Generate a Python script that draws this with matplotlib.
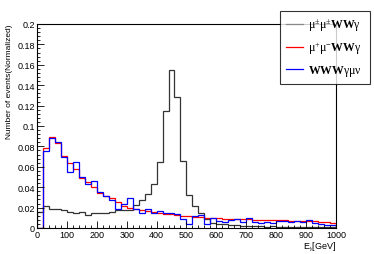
import numpy as np
import matplotlib
matplotlib.use('Agg')
import matplotlib.pyplot as plt
from matplotlib.ticker import MultipleLocator, FuncFormatter
from matplotlib.lines import Line2D

plt.rcParams['mathtext.fontset'] = 'custom'
plt.rcParams['mathtext.rm'] = 'Liberation Serif'
plt.rcParams['mathtext.it'] = 'Liberation Serif:italic'
plt.rcParams['mathtext.bf'] = 'Liberation Serif:bold'
plt.rcParams['font.family'] = ['Liberation Sans', 'DejaVu Sans']

# E_gamma [GeV] histograms, 20 GeV bins from 0 to 1000
edges = np.arange(0, 1001, 20)

ss_wwa = [0.0155, 0.022, 0.019, 0.019, 0.018, 0.016, 0.015, 0.016, 0.013, 0.015,
          0.015, 0.015, 0.016, 0.018, 0.018, 0.018, 0.023, 0.027, 0.033, 0.043,
          0.065, 0.115, 0.155, 0.128, 0.066, 0.032, 0.022, 0.015, 0.009, 0.005,
          0.004, 0.004, 0.003, 0.003, 0.002, 0.002, 0.002, 0.002, 0.001, 0.002,
          0.001, 0.001, 0.001, 0.001, 0.001, 0.001, 0.001, 0.001, 0.001, 0.001]

os_wwa = [0.0, 0.078, 0.089, 0.083, 0.071, 0.064, 0.058, 0.049, 0.045, 0.040,
          0.034, 0.031, 0.029, 0.025, 0.0215, 0.020, 0.019, 0.018, 0.017, 0.016,
          0.015, 0.014, 0.0137, 0.013, 0.012, 0.0115, 0.011, 0.0105, 0.010, 0.0098,
          0.0095, 0.0092, 0.009, 0.0088, 0.0087, 0.0085, 0.0083, 0.008, 0.0078, 0.0077,
          0.0075, 0.0074, 0.0072, 0.0072, 0.007, 0.0068, 0.0065, 0.006, 0.0055, 0.005]

www_a = [0.0, 0.075, 0.088, 0.084, 0.070, 0.055, 0.065, 0.050, 0.043, 0.046,
         0.035, 0.031, 0.027, 0.019, 0.024, 0.029, 0.019, 0.015, 0.019, 0.015,
         0.017, 0.015, 0.0145, 0.014, 0.009, 0.004, 0.012, 0.0125, 0.004, 0.0095,
         0.007, 0.0055, 0.008, 0.009, 0.006, 0.0095, 0.006, 0.005, 0.006, 0.005,
         0.007, 0.0065, 0.006, 0.0065, 0.006, 0.008, 0.005, 0.004, 0.003, 0.003]

labels = [r'$\mathrm{\mu^{\pm}\mu^{\pm}}\mathbf{WW}\mathrm{\gamma}$',
          r'$\mathrm{\mu^{+}\mu^{-}}\mathbf{WW}\mathrm{\gamma}$',
          r'$\mathbf{WWW}\mathrm{\gamma\mu\nu}$']

fig = plt.figure(figsize=(3.74, 2.55), dpi=100)
ax = fig.add_axes([0.099, 0.102, 0.799, 0.800])

ax.stairs(ss_wwa, edges, color='#333333', lw=0.9, baseline=0)
ax.stairs(os_wwa, edges, color='#ff0000', lw=0.9, baseline=0)
ax.stairs(www_a, edges, color='#0000ff', lw=0.9, baseline=0)

ax.set_xlim(0, 1000)
ax.set_ylim(0, 0.2)
ax.xaxis.set_major_locator(MultipleLocator(100))
ax.xaxis.set_minor_locator(MultipleLocator(20))
ax.yaxis.set_major_locator(MultipleLocator(0.02))
ax.yaxis.set_minor_locator(MultipleLocator(0.004))
ax.yaxis.set_major_formatter(FuncFormatter(lambda v, p: '%g' % round(v, 3)))
ax.tick_params(which='both', direction='in', top=False, right=False,
               labelsize=6.5, pad=1.5, width=0.6)
ax.tick_params(which='major', length=5)
ax.tick_params(which='minor', length=2.5)
for s in ax.spines.values():
    s.set_linewidth(0.8)

ax.set_ylabel('Number of events(Normalized)', fontsize=6, loc='top', labelpad=3)
ax.set_xlabel(r'E$_{\gamma}$[GeV]', fontsize=6.5, loc='right', labelpad=0)

handles = [Line2D([], [], color=c, lw=0.9) for c in ('#888888', '#ff0000', '#0000ff')]
leg = fig.legend(handles, labels, loc='upper left',
                 bbox_to_anchor=(0.749, 0.671, 0.24, 0.282), mode='expand',
                 fontsize=8.5, frameon=True, fancybox=False, handlelength=1.4,
                 handletextpad=0.5, labelspacing=0.55, borderpad=0.5,
                 borderaxespad=0)
leg.get_frame().set_edgecolor('black')
leg.get_frame().set_linewidth(0.8)

fig.savefig('out.png', dpi=100)
